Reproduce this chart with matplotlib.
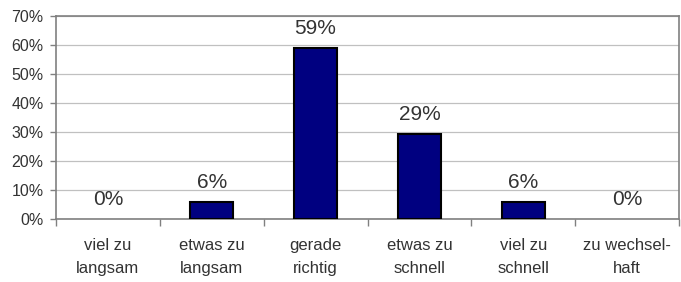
import matplotlib
matplotlib.use("Agg")
import matplotlib.pyplot as plt
import numpy as np

categories = ["viel zu\nlangsam", "etwas zu\nlangsam", "gerade\nrichtig", "etwas zu\nschnell", "viel zu\nschnell", "zu wechsel-\nhaft"]
values = [0, 6, 59, 29.4, 6, 0]
labels = ["0%", "6%", "59%", "29%", "6%", "0%"]
yticks = [0, 10, 20, 30, 40, 50, 60, 70]

plt.rcParams['font.family'] = ['Liberation Sans', 'DejaVu Sans']
fig = plt.figure(figsize=(6.81, 2.82), dpi=100)
ax = fig.add_axes([56/681, 1-219/282, 623/681, 203/282])

x = np.arange(len(categories))
bars = ax.bar(x, values, width=0.41, color='#000080', edgecolor='black', linewidth=1.5, zorder=3)
for b, v in zip(bars, values):
    if v == 0:
        b.set_linewidth(0)
for xi, v, l in zip(x, values, labels):
    ax.annotate(l, (xi, v), xytext=(0, 7), textcoords='offset points', ha='center', va='bottom',
                fontsize=15, color='#333333')

ax.set_xlim(-0.5, len(categories)-0.5)
ax.set_ylim(0, 70)
ax.set_yticks(yticks)
ax.set_yticklabels([f"{t}%" for t in yticks], fontsize=11.5, color='#333333')
ax.yaxis.grid(True, color='#c0c0c0', linewidth=0.9, zorder=0)
ax.set_axisbelow(True)

ax.set_xticks(x)
ax.set_xticklabels(categories, fontsize=12, color='#333333', linespacing=1.65)
ax.set_xticks(np.arange(-0.5, len(categories)), minor=True)
ax.tick_params(axis='x', which='major', length=0, pad=13.5)
ax.tick_params(axis='x', which='minor', length=5, color='#808080', width=1)
ax.tick_params(axis='y', length=4, color='#808080', width=1, pad=5)
for s in ax.spines.values():
    s.set_color('#808080')
    s.set_linewidth(1.2)

fig.savefig("out.png", dpi=100)
